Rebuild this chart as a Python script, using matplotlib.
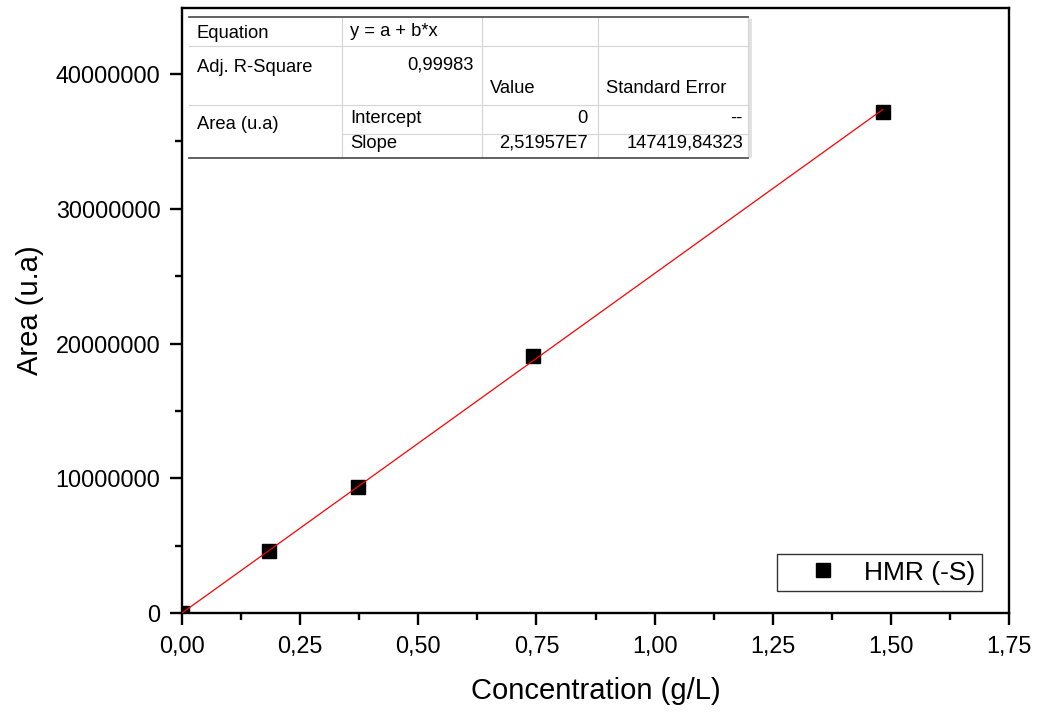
import matplotlib
matplotlib.use('Agg')
import matplotlib.pyplot as plt
from matplotlib.lines import Line2D
from matplotlib.ticker import FuncFormatter, MultipleLocator

# calibration points HMR (-S)
conc = [0.0, 0.185, 0.372, 0.742, 1.483]
area = [0.0, 4.6e6, 9.35e6, 19.1e6, 37.2e6]
series_name = 'HMR (-S)'

# linear fit results (shown in the table)
intercept = 0.0
slope = 2.51957e7
fit_x = [0.0, 1.483]

table_rows = [
    ['Equation', 'y = a + b*x', '', ''],
    ['Adj. R-Square', '0,99983', 'Value', 'Standard Error'],
    ['Area (u.a)', 'Intercept', '0', '--'],
    ['', 'Slope', '2,51957E7', '147419,84323'],
]

plt.rcParams['font.family'] = ['Liberation Sans', 'DejaVu Sans']

W, H = 1037, 713
fig = plt.figure(figsize=(W / 100, H / 100), dpi=100)
ax = fig.add_axes([182 / W, 100 / H, 827 / W, 605 / H])

fit_y = [intercept + slope * v for v in fit_x]
ax.plot(conc, area, 's', color='black', markersize=10, zorder=3, label=series_name)
ax.plot(fit_x, fit_y, '-', color='red', linewidth=0.9, zorder=4)

ax.set_xlim(0, 1.75)
ax.set_ylim(0, 4.49e7)
ax.xaxis.set_major_locator(MultipleLocator(0.25))
ax.xaxis.set_minor_locator(MultipleLocator(0.125))
ax.yaxis.set_major_locator(MultipleLocator(1e7))
ax.yaxis.set_minor_locator(MultipleLocator(5e6))
ax.xaxis.set_major_formatter(FuncFormatter(lambda v, p: ('%.2f' % v).replace('.', ',')))
ax.yaxis.set_major_formatter(FuncFormatter(lambda v, p: '%d' % round(v)))

for s in ax.spines.values():
    s.set_linewidth(1.7)
ax.tick_params(which='major', direction='out', length=8.5, width=1.7, labelsize=16.8, pad=7)
ax.tick_params(which='minor', direction='out', length=5, width=1.7)

ax.set_xlabel('Concentration (g/L)', fontsize=21)
ax.set_ylabel('Area (u.a)', fontsize=21)
ax.xaxis.set_label_coords(0.5, -0.105)
ax.yaxis.set_label_coords(-0.167, 0.5)

leg = ax.legend(loc='upper left', bbox_to_anchor=((777 - 182) / 827, (613 - 554) / 605),
                borderaxespad=0, fontsize=19, frameon=True, fancybox=False,
                edgecolor='black', borderpad=0.25, handlelength=2.95, handletextpad=0.1,
                numpoints=1)
leg.get_frame().set_linewidth(1.0)

# fit table drawn in figure pixels
def px(x, y):
    return x / W, 1 - y / H

cols = [189, 342, 482, 598, 748]
rows = [17, 46, 105, 134, 158]

x0, y0 = px(cols[0], rows[-1])
x1, y1 = px(cols[-1], rows[0])
fig.patches.append(plt.Rectangle((x0, y0), x1 - x0, y1 - y0, transform=fig.transFigure,
                                 facecolor='white', edgecolor='none', zorder=5))
fig.patches.append(plt.Rectangle(px(cols[-1], rows[-1]), 4 / W, (rows[-1] - rows[0] - 2) / H,
                                 transform=fig.transFigure, facecolor='#e2e2e2',
                                 edgecolor='none', zorder=5))

def hline(y, xa, xb, color, lw):
    a, b = px(xa, y), px(xb, y)
    fig.add_artist(Line2D([a[0], b[0]], [a[1], b[1]], color=color, linewidth=lw, zorder=6))

def vline(x, ya, yb, color, lw):
    a, b = px(x, ya), px(x, yb)
    fig.add_artist(Line2D([a[0], b[0]], [a[1], b[1]], color=color, linewidth=lw, zorder=6))

light = '#d4d4d4'
hline(rows[1], cols[0], cols[-1], light, 0.8)
hline(rows[2], cols[0], cols[-1], light, 0.8)
hline(rows[3], cols[1], cols[-1], light, 0.8)
for c in cols[1:]:
    vline(c, rows[0], rows[-1], light, 0.8)
hline(rows[0], cols[0], cols[-1], '#555555', 1.3)
hline(rows[-1], cols[0], cols[-1], '#555555', 1.3)

# (row, col) -> pixel anchor, alignment
cell_pos = {
    (0, 0): (197, 38, 'left'), (0, 1): (350, 36, 'left'),
    (1, 0): (197, 72, 'left'), (1, 1): (474, 70, 'right'),
    (1, 2): (490, 93, 'left'), (1, 3): (606, 93, 'left'),
    (2, 0): (197, 129, 'left'), (2, 1): (350, 123, 'left'),
    (2, 2): (588, 123, 'right'), (2, 3): (743, 123, 'right'),
    (3, 1): (350, 148, 'left'), (3, 2): (588, 148, 'right'),
    (3, 3): (743, 148, 'right'),
}
for (r, c), (x, y, ha) in cell_pos.items():
    txt = table_rows[r][c]
    if txt:
        fig.text(*px(x, y), txt, ha=ha, va='baseline', fontsize=13.2, zorder=7)

fig.savefig('out.png', dpi=100)
